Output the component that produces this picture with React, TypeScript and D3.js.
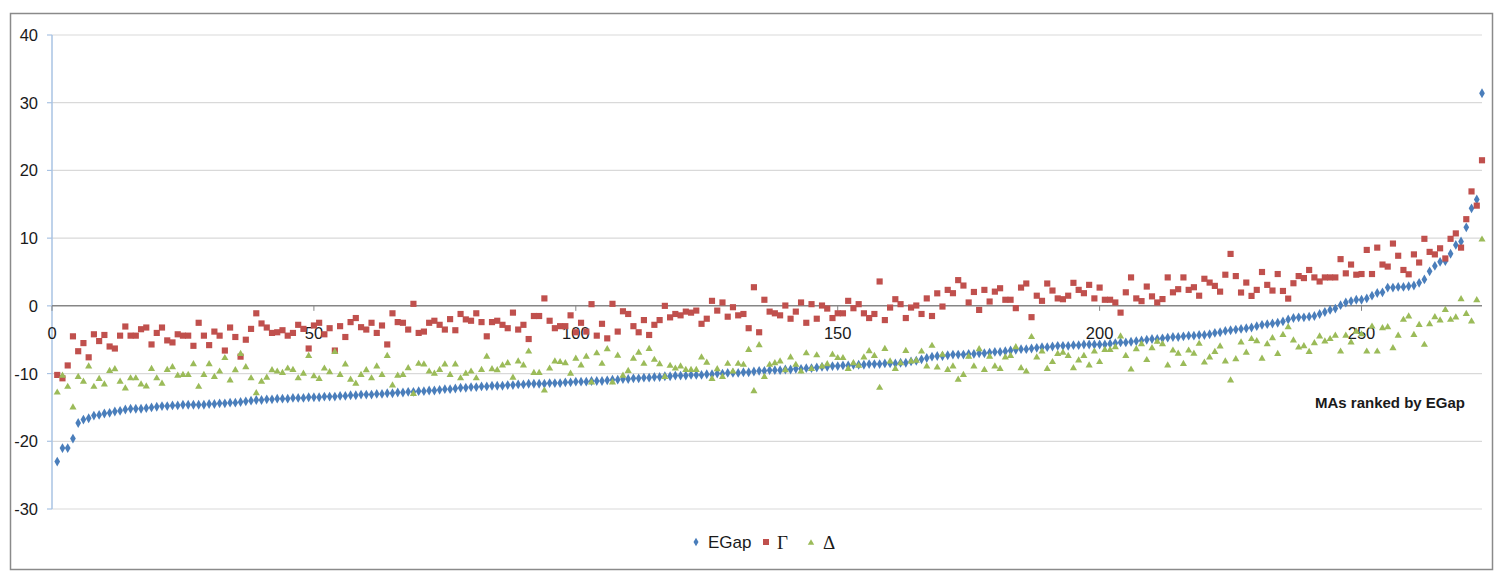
import React from "react";
import * as d3 from "d3";

// values, index 1..273
const egap = [
  -23.0, -21.0, -21.0, -19.6, -17.3, -16.8, -16.6, -16.2, -16.1, -15.9,
  -15.8, -15.6, -15.5, -15.3, -15.2, -15.2, -15.2, -15.1, -15.0, -14.9,
  -14.8, -14.8, -14.7, -14.7, -14.6, -14.6, -14.6, -14.6, -14.6, -14.5,
  -14.5, -14.4, -14.4, -14.3, -14.3, -14.2, -14.1, -14.0, -13.9, -13.9,
  -13.8, -13.8, -13.7, -13.7, -13.7, -13.6, -13.6, -13.6, -13.5, -13.5,
  -13.5, -13.4, -13.4, -13.4, -13.3, -13.3, -13.2, -13.2, -13.1, -13.1,
  -13.1, -13.0, -13.0, -12.9, -12.9, -12.8, -12.8, -12.7, -12.7, -12.6,
  -12.6, -12.5, -12.5, -12.4, -12.3, -12.3, -12.2, -12.1, -12.1, -12.0,
  -12.0, -11.9, -11.9, -11.8, -11.8, -11.8, -11.7, -11.7, -11.6, -11.6,
  -11.5, -11.5, -11.5, -11.5, -11.4, -11.4, -11.4, -11.3, -11.3, -11.2,
  -11.2, -11.2, -11.1, -11.1, -11.1, -11.0, -10.9, -10.9, -10.8, -10.8,
  -10.7, -10.7, -10.6, -10.6, -10.5, -10.5, -10.4, -10.4, -10.3, -10.3,
  -10.3, -10.2, -10.2, -10.2, -10.1, -10.1, -10.0, -10.0, -9.9, -9.9,
  -9.9, -9.8, -9.8, -9.7, -9.6, -9.6, -9.5, -9.5, -9.5, -9.4,
  -9.4, -9.3, -9.3, -9.2, -9.2, -9.1, -9.0, -9.0, -8.9, -8.9,
  -8.8, -8.8, -8.7, -8.7, -8.7, -8.6, -8.6, -8.6, -8.5, -8.5,
  -8.5, -8.4, -8.4, -8.2, -8.1, -7.9, -7.7, -7.5, -7.4, -7.4,
  -7.3, -7.2, -7.2, -7.2, -7.1, -7.1, -7.0, -7.0, -6.9, -6.8,
  -6.8, -6.7, -6.6, -6.5, -6.4, -6.4, -6.3, -6.2, -6.1, -6.1,
  -6.0, -5.9, -5.9, -5.9, -5.8, -5.8, -5.7, -5.7, -5.7, -5.7,
  -5.7, -5.6, -5.5, -5.4, -5.4, -5.3, -5.2, -5.1, -5.0, -4.9,
  -4.9, -4.8, -4.7, -4.6, -4.6, -4.5, -4.4, -4.4, -4.3, -4.3,
  -4.2, -4.0, -3.9, -3.7, -3.6, -3.5, -3.4, -3.3, -3.2, -3.0,
  -2.8, -2.7, -2.6, -2.5, -2.3, -2.0, -1.8, -1.7, -1.7, -1.6,
  -1.5, -1.2, -0.9, -0.6, -0.4, 0.1, 0.5, 0.7, 0.9, 0.9,
  1.1, 1.5, 1.9, 2.0, 2.7, 2.7, 2.8, 2.8, 2.9, 3.0,
  3.4, 3.9, 5.1, 5.9, 6.5, 6.6, 7.7, 9.0, 9.5, 11.6,
  14.4, 15.7, 31.4,
];

const gamma = [
  -10.2, -10.7, -8.8, -4.5, -6.7, -5.5, -7.6, -4.2, -5.2, -4.3,
  -6.0, -6.3, -4.4, -3.05, -4.4, -4.4, -3.45, -3.2, -5.7, -4.0,
  -3.2, -5.1, -5.4, -4.2, -4.4, -4.4, -5.9, -2.5, -4.4, -5.8,
  -3.8, -4.4, -6.6, -3.2, -4.6, -7.5, -5.0, -3.4, -1.1, -2.6,
  -3.2, -4.0, -3.9, -3.6, -4.4, -4.0, -2.8, -3.4, -6.3, -2.9,
  -2.5, -4.2, -3.3, -6.6, -3.0, -4.6, -2.4, -1.8, -3.15, -3.5,
  -2.5, -4.0, -2.9, -5.7, -1.1, -2.4, -2.5, -3.5, 0.3, -4.0,
  -3.8, -2.5, -2.2, -2.8, -3.5, -1.96, -3.6, -1.2, -2.0, -2.2,
  -1.1, -2.4, -4.5, -2.4, -2.2, -2.8, -3.3, -1.0, -3.5, -2.8,
  -4.9, -1.5, -1.5, 1.1, -2.2, -3.3, -3.0, -3.0, -1.4, -3.9,
  -2.5, -3.8, 0.25, -4.4, -2.65, -4.8, 0.3, -3.8, -0.8, -1.2,
  -3.0, -3.9, -2.1, -4.3, -2.8, -2.1, 0.0, -1.7, -1.2, -1.4,
  -0.85, -1.0, -0.7, -2.65, -1.9, 0.74, -0.7, 0.5, -1.6, -0.2,
  -1.4, -1.2, -3.3, 2.75, -3.9, 0.9, -0.85, -1.1, -1.4, 0.05,
  -1.9, -0.85, 0.5, -2.5, 0.25, -1.9, 0.05, -0.4, -1.8, -1.1,
  -1.1, 0.74, -0.35, 0.25, -1.1, -1.8, -1.2, 3.6, -2.1, -0.25,
  0.98, 0.25, -1.8, -0.25, 0.05, -1.2, 1.1, -1.5, 1.85, -0.1,
  2.36, 1.87, 3.8, 3.0, 0.5, 2.05, -0.6, 2.36, 0.64, 2.1,
  2.6, 0.9, 0.9, -0.34, 2.7, 3.3, -1.67, 1.5, 0.74, 3.3,
  2.26, 1.1, 0.98, 1.5, 3.4, 2.36, 1.87, 3.1, 1.1, 2.7,
  0.9, 0.9, 0.5, -1.0, 2.0, 4.2, 1.1, 0.7, 2.85, 1.4,
  0.5, 1.0, 4.2, 2.0, 2.46, 4.2, 2.36, 2.75, 1.5, 4.0,
  3.44, 2.95, 2.1, 4.6, 7.67, 4.4, 1.97, 3.44, 1.47, 2.36,
  5.0, 3.1, 2.26, 4.7, 2.2, 1.07, 3.34, 4.4, 4.1, 5.3,
  4.2, 3.6, 4.2, 4.2, 4.2, 6.9, 4.8, 6.1, 4.6, 4.7,
  8.26, 4.7, 8.6, 6.1, 5.8, 9.2, 7.4, 5.3, 4.66, 7.6,
  6.4, 9.9, 7.97, 7.6, 8.5, 7.0, 9.9, 10.7, 8.6, 12.8,
  16.9, 14.8, 21.5,
];

const delta = [
  -12.8, -10.3, -11.95, -15.0, -10.5, -11.2, -8.95, -11.95, -10.8, -11.6,
  -9.6, -9.35, -11.2, -12.2, -10.7, -10.7, -11.6, -11.9, -9.3, -10.7,
  -11.5, -9.45, -9.05, -10.3, -10.2, -10.2, -8.6, -11.95, -10.2, -8.6,
  -10.5, -9.7, -7.7, -11.0, -9.5, -7.1, -9.05, -10.7, -12.9, -11.2,
  -10.6, -9.5, -9.7, -9.9, -9.25, -9.45, -10.7, -10.0, -7.4, -10.4,
  -10.8, -9.25, -9.8, -6.8, -10.2, -8.65, -10.9, -11.5, -10.2, -9.5,
  -10.7, -8.95, -10.2, -7.4, -11.75, -10.3, -10.2, -9.2, -13.0, -8.55,
  -8.65, -9.7, -10.0, -9.45, -8.65, -10.2, -8.65, -10.7, -10.0, -9.7,
  -10.7, -9.45, -7.5, -9.35, -9.5, -8.8, -8.45, -10.6, -8.2, -8.8,
  -6.74, -9.9, -9.9, -12.5, -9.25, -8.2, -8.3, -8.45, -10.0, -7.8,
  -8.8, -7.5, -11.3, -7.0, -8.55, -6.4, -11.3, -7.35, -10.3, -9.6,
  -7.8, -6.9, -8.55, -6.35, -7.96, -8.6, -10.5, -8.85, -9.25, -8.95,
  -9.45, -9.45, -9.45, -7.6, -8.4, -10.8, -9.35, -10.5, -8.55, -9.7,
  -8.55, -8.7, -6.5, -12.6, -5.8, -10.5, -8.7, -8.45, -8.2, -9.5,
  -7.6, -8.7, -9.7, -7.0, -9.3, -7.3, -8.95, -8.6, -7.2, -7.7,
  -7.7, -9.3, -8.45, -8.85, -7.6, -6.7, -7.4, -12.1, -6.35, -8.2,
  -9.3, -8.45, -6.65, -8.2, -8.1, -6.74, -8.95, -5.9, -9.1, -7.2,
  -9.45, -8.95, -10.9, -10.2, -7.5, -8.95, -6.4, -9.45, -7.5, -8.95,
  -9.3, -7.6, -7.4, -6.1, -9.2, -9.7, -4.6, -7.6, -6.74, -9.3,
  -8.3, -7.1, -6.9, -7.4, -9.2, -8.06, -7.4, -8.8, -6.74, -8.3,
  -6.5, -6.5, -6.1, -4.5, -7.4, -9.4, -6.4, -5.65, -8.0, -6.25,
  -5.3, -5.65, -8.8, -6.6, -7.07, -8.56, -6.6, -7.07, -5.6, -8.37,
  -7.6, -6.8, -6.0, -8.2, -11.0, -7.87, -5.4, -6.9, -4.9, -5.2,
  -7.8, -5.65, -4.77, -7.1, -4.3, -3.15, -5.1, -6.15, -5.95, -6.8,
  -5.5, -4.5, -5.25, -4.9, -4.4, -6.75, -4.4, -5.4, -3.8, -4.2,
  -6.75, -3.05, -6.75, -3.3, -3.15, -6.25, -4.4, -2.06, -1.57, -4.3,
  -2.8, -5.75, -2.7, -1.67, -2.15, -0.6, -2.06, -1.7, 1.0, -1.2,
  -2.3, 0.84, 9.8,
];

const yTicks = [40, 30, 20, 10, 0, -10, -20, -30];
const xTicks = [0, 50, 100, 150, 200, 250];

const FONT = "'Liberation Sans Narrow', 'Liberation Sans', Arial, sans-serif";
const BLUE = "#4a7ebb";
const RED = "#c0504d";
const GREEN = "#9bbb59";

const App: React.FC = () => {
  const width = 1501;
  const height = 572;

  const x = d3.scaleLinear().domain([0, 273]).range([52, 1482]);
  const y = d3.scaleLinear().domain([-30, 40]).range([509, 35]);

  const diamond = d3.symbol(d3.symbolDiamond, 28)()!;
  const square = d3.symbol(d3.symbolSquare, 38)()!;
  const triangle = d3.symbol(d3.symbolTriangle, 22)()!;

  return (
    <svg
      width={width}
      height={height}
      style={{ position: "absolute", left: 0, top: 0, background: "#fff" }}
    >
      <rect
        x={10.5}
        y={13.5}
        width={1482}
        height={556}
        fill="#fff"
        stroke="#8a8a8a"
        strokeWidth={1.5}
      />

      {/* gridlines */}
      {yTicks
        .filter((t) => t !== 0)
        .map((t) => (
          <line
            key={"g" + t}
            x1={x(0)}
            x2={x(273)}
            y1={y(t)}
            y2={y(t)}
            stroke="#d9d9d9"
            strokeWidth={1.2}
          />
        ))}

      {/* y axis */}
      <line x1={x(0)} x2={x(0)} y1={y(40)} y2={y(-30)} stroke="#a9c3e3" strokeWidth={1.5} />
      {yTicks.map((t) => (
        <g key={"y" + t}>
          <line x1={x(0) - 5} x2={x(0)} y1={y(t)} y2={y(t)} stroke="#a9c3e3" strokeWidth={1.2} />
          <text
            x={38}
            y={y(t)}
            dy="0.36em"
            textAnchor="end"
            fontFamily={FONT}
            fontSize={16.5}
            fill="#1a1a1a"
          >
            {t}
          </text>
        </g>
      ))}

      {/* x axis on zero */}
      <line x1={x(0)} x2={x(273)} y1={y(0)} y2={y(0)} stroke="#868686" strokeWidth={1.5} />
      {xTicks.map((t) => (
        <g key={"x" + t}>
          <line x1={x(t)} x2={x(t)} y1={y(0)} y2={y(0) + 5} stroke="#868686" strokeWidth={1} />
          <text
            x={x(t)}
            y={339}
            textAnchor="middle"
            fontFamily={FONT}
            fontSize={16.5}
            fill="#1a1a1a"
          >
            {t}
          </text>
        </g>
      ))}

      {/* series */}
      <g fill={BLUE}>
        {egap.map((v, i) => (
          <path key={"e" + i} d={diamond} transform={`translate(${x(i + 1)},${y(v)})`} />
        ))}
      </g>
      <g fill={RED}>
        {gamma.map((v, i) => (
          <path key={"r" + i} d={square} transform={`translate(${x(i + 1)},${y(v)})`} />
        ))}
      </g>
      <g fill={GREEN}>
        {delta.map((v, i) => (
          <path key={"d" + i} d={triangle} transform={`translate(${x(i + 1)},${y(v)})`} />
        ))}
      </g>

      <text
        x={1390}
        y={408}
        textAnchor="middle"
        fontFamily={FONT}
        fontWeight="bold"
        fontSize={15}
        fill="#1a1a1a"
      >
        MAs ranked by EGap
      </text>

      {/* legend */}
      <g transform="translate(0,542)">
        <path d={d3.symbol(d3.symbolDiamond, 22)()!} transform="translate(696,0)" fill={BLUE} />
        <text x={708} y={0} dy="0.36em" fontFamily={FONT} fontSize={17} fill="#1a1a1a">
          EGap
        </text>
        <path d={d3.symbol(d3.symbolSquare, 36)()!} transform="translate(766,0)" fill={RED} />
        <text x={777} y={0} dy="0.36em" fontFamily="'Liberation Serif', serif" fontSize={19} fill="#1a1a1a">
          Γ
        </text>
        <path d={d3.symbol(d3.symbolTriangle, 18)()!} transform="translate(811,1)" fill={GREEN} />
        <text x={823} y={0} dy="0.36em" fontFamily="'Liberation Serif', serif" fontSize={19} fill="#1a1a1a">
          Δ
        </text>
      </g>
    </svg>
  );
};

export default App;
